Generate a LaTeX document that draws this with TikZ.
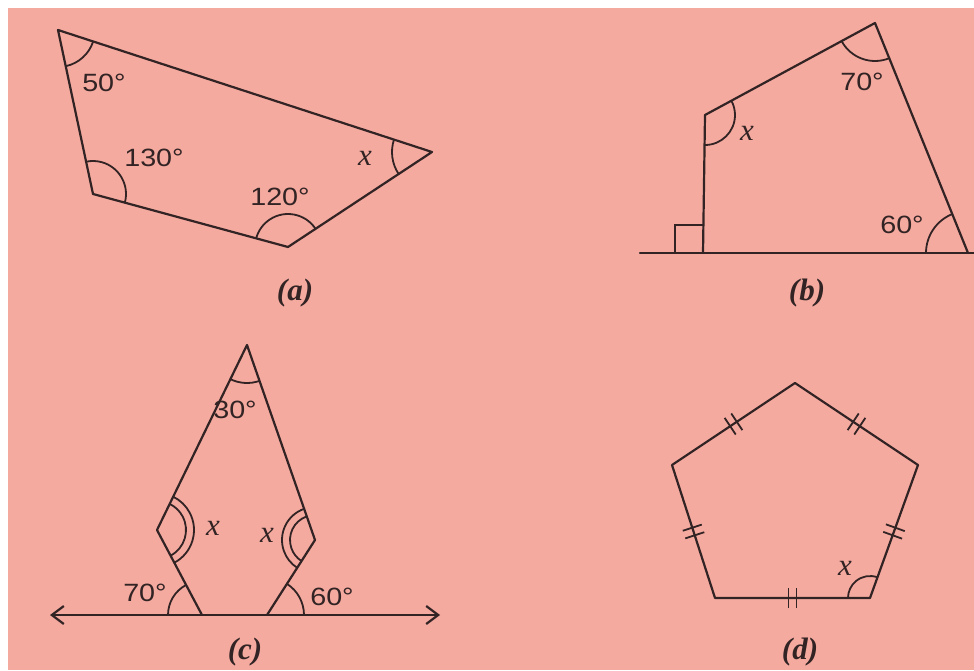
\documentclass[tikz,border=0pt]{standalone}
\usepackage{graphicx}
\usepackage{fontspec}
\setmainfont{Liberation Serif}
\newfontfamily\degfont{Liberation Sans}
\usetikzlibrary{angles,arrows.meta,decorations.markings}
\definecolor{bg}{RGB}{245,170,160}
\definecolor{ink}{RGB}{50,36,36}
\newcommand{\dg}[1]{\scalebox{1.15}[1]{#1}}
\begin{document}
\begin{tikzpicture}[x=1pt,y=1pt,
  >={Straight Barb[length=12pt,width=18pt]},
  edge/.style={draw=ink,line width=2.2pt,line join=round,line cap=round},
  ang/.style={draw=ink,line width=1.8pt},
  deg/.style={inner sep=0pt,text=ink,font=\degfont\fontsize{25}{30}\selectfont},
  var/.style={inner sep=0pt,text=ink,font=\itshape\fontsize{31}{35}\selectfont},
  figlabel/.style={inner sep=0pt,text=ink,font=\bfseries\itshape\fontsize{31}{36}\selectfont},
  ticks/.style={postaction={decorate},decoration={markings,
     mark=at position 0.5 with {\draw[ink,line width=1.8pt] (-4,-10) -- (-4,10) (4,-10) -- (4,10);}}}
]
\useasboundingbox (0,0) rectangle (974,670);
\fill[white] (0,0) rectangle (974,670);
\fill[bg] (8,0) rectangle (974,662);

% ---------- (a) ----------
\coordinate (A1) at (58,640);
\coordinate (A2) at (432,518);
\coordinate (A3) at (288,423);
\coordinate (A4) at (93,476);
\draw[edge] (A1) -- (A2) -- (A3) -- (A4) -- cycle;
\pic[ang, angle radius=37pt] {angle=A4--A1--A2};
\pic[ang, angle radius=33pt] {angle=A3--A4--A1};
\pic[ang, angle radius=33pt] {angle=A2--A3--A4};
\pic[ang, angle radius=40pt] {angle=A1--A2--A3};
\node[deg] (a50) at (104,587) {\dg{50°}};
\node[deg] (a130) at (154,512) {\dg{130°}};
\node[deg] (a120) at (280,473) {\dg{120°}};
\node[var] (ax) at (365,512) {x};
\node[figlabel] (la) at (295,377) {(a)};

% ---------- (b) ----------
\coordinate (B1) at (875,647);
\coordinate (B2) at (705,555);
\coordinate (B3) at (703,417);
\coordinate (B4) at (968,417);
\coordinate (BL) at (640,417);
\coordinate (BR) at (974,417);
\draw[edge] (BL) -- (BR);
\draw[edge] (B3) -- (B2) -- (B1) -- (B4);
\draw[ang] (B3) ++(-28,0) -- ++(0,28) -- ++(28,0);
\pic[ang, angle radius=38pt] {angle=B2--B1--B4};
\pic[ang, angle radius=30pt] {angle=B3--B2--B1};
\pic[ang, angle radius=42pt] {angle=B1--B4--B3};
\node[deg] (b70) at (862,588) {\dg{70°}};
\node[var] (bx) at (747,537) {x};
\node[deg] (b60) at (902,445) {\dg{60°}};
\node[figlabel] (lb) at (807,377) {(b)};

% ---------- (c) ----------
\coordinate (C1) at (247,325);
\coordinate (C2) at (157,140);
\coordinate (C3) at (202,55);
\coordinate (C4) at (315,130);
\coordinate (C5) at (267,55);
\coordinate (CL) at (50,55);
\coordinate (CR) at (440,55);
\draw[edge, <->] (CL) -- (CR);
\draw[edge] (C3) -- (C2) -- (C1) -- (C4) -- (C5);
\pic[ang, angle radius=38pt] {angle=C2--C1--C4};
\pic[ang, angle radius=29pt] {angle=C3--C2--C1};
\pic[ang, angle radius=37pt] {angle=C3--C2--C1};
\pic[ang, angle radius=25pt] {angle=C1--C4--C5};
\pic[ang, angle radius=33pt] {angle=C1--C4--C5};
\pic[ang, angle radius=34pt] {angle=C2--C3--CL};
\pic[ang, angle radius=37pt] {angle=CR--C5--C4};
\node[deg] (c30) at (235,260) {\dg{30°}};
\node[var] (cx1) at (213,142) {x};
\node[var] (cx2) at (267,135) {x};
\node[deg] (c70) at (145,77) {\dg{70°}};
\node[deg] (c60) at (332,73) {\dg{60°}};
\node[figlabel] (lc) at (245,18) {(c)};

% ---------- (d) ----------
\coordinate (D1) at (795,287);
\coordinate (D2) at (918,205);
\coordinate (D3) at (870,72);
\coordinate (D4) at (715,72);
\coordinate (D5) at (672,205);
\draw[edge] (D1) -- (D2) -- (D3) -- (D4) -- (D5) -- cycle;
\path[ticks] (D5) -- (D1);
\path[ticks] (D1) -- (D2);
\path[ticks] (D2) -- (D3);
\path[ticks] (D4) -- (D3);
\path[ticks] (D5) -- (D4);
\pic[ang, angle radius=22pt] {angle=D2--D3--D4};
\node[var] (dx) at (845,102) {x};
\node[figlabel] (ld) at (800,18) {(d)};
\end{tikzpicture}
\end{document}
